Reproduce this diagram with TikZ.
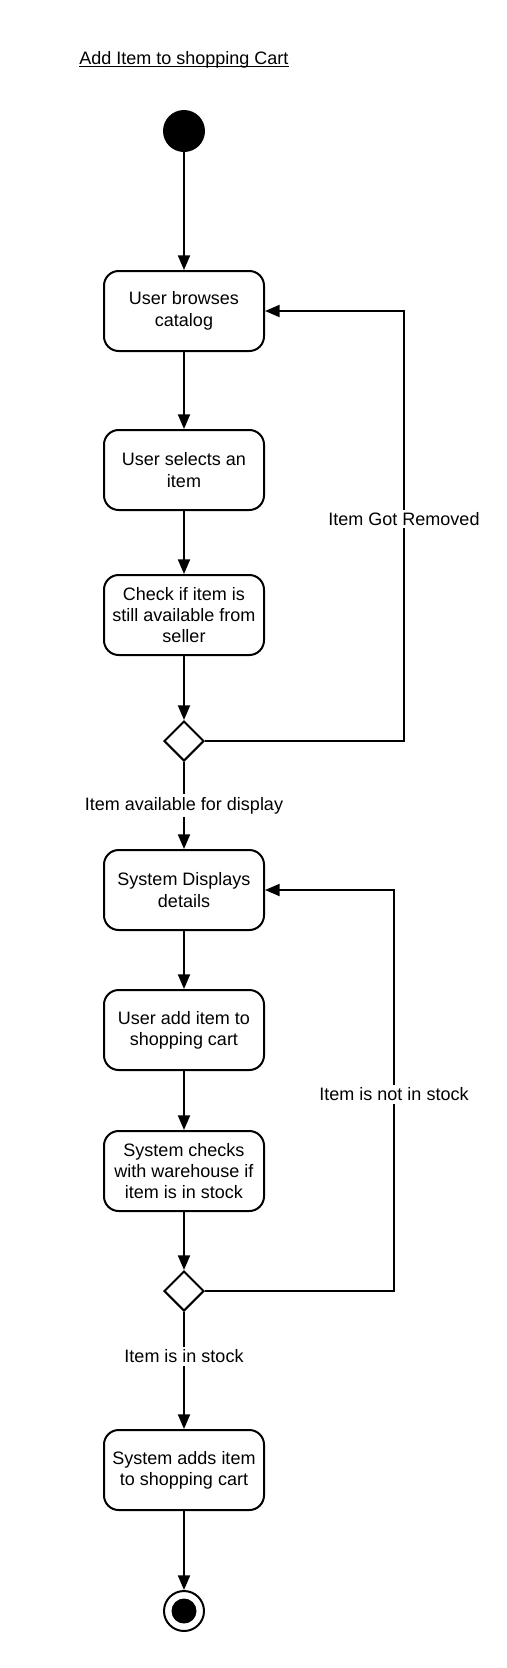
\documentclass[tikz,border=0pt]{standalone}
\usepackage{fontspec}
\setmainfont{Liberation Sans}
\usetikzlibrary{shapes.geometric,arrows.meta}
\begin{document}
\begin{tikzpicture}[x=0.75pt,y=-0.75pt,
  every node/.style={font=\fontsize{13.5pt}{16pt}\selectfont},
  actbox/.style={draw,line width=1.5pt,rounded corners=11pt,minimum width=120pt,minimum height=60pt,align=center,inner sep=2pt},
  decision/.style={draw,diamond,line width=1.5pt,minimum width=30pt,minimum height=30pt,inner sep=0pt,aspect=1},
  flow/.style={line width=1.5pt,-{Triangle[length=11pt,width=9pt]}},
  lbl/.style={fill=white,inner sep=2pt}]
\useasboundingbox (0,0) rectangle (507,1668);
\node[anchor=base west,inner sep=0pt] (title) at (79,64) {Add Item to shopping Cart};
\draw[line width=0.8pt] ([yshift=-1.8pt]title.base west) -- ([yshift=-1.8pt]title.base east);
\node[circle,fill=black,minimum size=31.5pt,inner sep=0pt] (start) at (184,131) {};
\node[actbox] (b1) at (184,311) {User browses\\catalog};
\node[actbox] (b2) at (184,470) {User selects an\\item};
\node[actbox] (b3) at (184,615) {Check if item is\\still available from\\seller};
\node[decision] (d1) at (184,741) {};
\node[actbox] (b4) at (184,890) {System Displays\\details};
\node[actbox] (b5) at (184,1030) {User add item to\\shopping cart};
\node[actbox] (b6) at (184,1171) {System checks\\with warehouse if\\item is in stock};
\node[decision] (d2) at (184,1291) {};
\node[actbox] (b7) at (184,1470) {System adds item\\to shopping cart};
\node[circle,draw,line width=1.5pt,minimum size=30pt,inner sep=0pt] (end) at (184,1611) {};
\node[circle,fill=black,minimum size=18.75pt,inner sep=0pt] (endin) at (end.center) {};
\coordinate (c1) at (404,741);
\coordinate (c2) at (404,311);
\coordinate (c3) at (394,1291);
\coordinate (c4) at (394,890);
\draw[flow] (start) -- (b1);
\draw[flow] (b1) -- (b2);
\draw[flow] (b2) -- (b3);
\draw[flow] (b3) -- (d1);
\draw[flow] (d1) -- node[lbl]{Item available for display} (b4);
\draw[flow] (d1.east) -- (c1) -- node[lbl,pos=0.516]{Item Got Removed} (c2) -- (b1.east);
\draw[flow] (b4) -- (b5);
\draw[flow] (b5) -- (b6);
\draw[flow] (b6) -- (d2);
\draw[flow] (d2.east) -- (c3) -- node[lbl,pos=0.49]{Item is not in stock} (c4) -- (b4.east);
\draw[flow] (d2) -- node[lbl,pos=0.38]{Item is in stock} (b7);
\draw[flow] (b7) -- (end);
\end{tikzpicture}
\end{document}
